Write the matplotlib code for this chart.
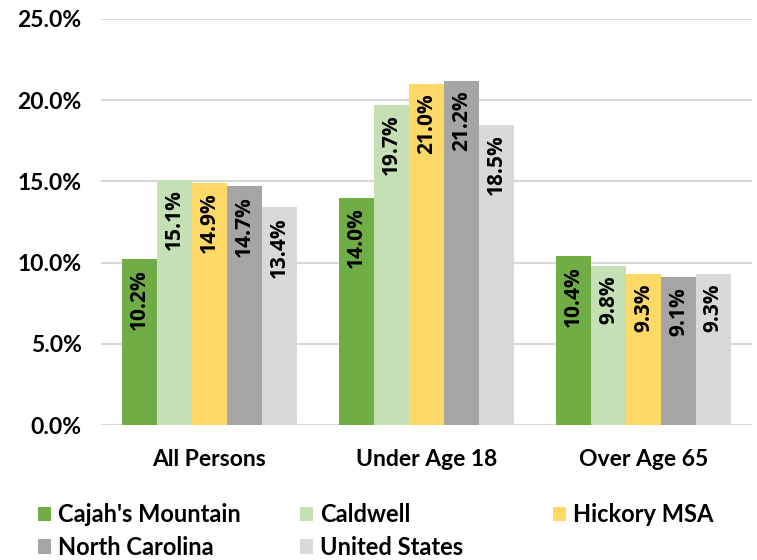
import numpy as np
import matplotlib.pyplot as plt
from matplotlib.patches import Patch

plt.rcParams['font.family'] = ['Lato', 'DejaVu Sans']
plt.rcParams['font.weight'] = 'bold'

categories = ['All Persons', 'Under Age 18', 'Over Age 65']
series_names = ["Cajah's Mountain", 'Caldwell', 'Hickory MSA', 'North Carolina', 'United States']
cajahs = [10.2, 14.0, 10.4]
caldwell = [15.1, 19.7, 9.8]
hickory = [14.9, 21.0, 9.3]
north_carolina = [14.7, 21.2, 9.1]
united_states = [13.4, 18.5, 9.3]
colors = ['#70ad47', '#c5e0b4', '#ffd966', '#a5a5a5', '#d9d9d9']

all_series = [cajahs, caldwell, hickory, north_carolina, united_states]

fig = plt.figure(figsize=(7.57, 5.6), dpi=100)
ax = fig.add_axes([101/757, 1 - 425/560, 651/757, 406/560])

x = np.arange(len(categories))
width = 0.161
for i, (vals, col) in enumerate(zip(all_series, colors)):
    pos = x + (i - 2) * width
    bars = ax.bar(pos, vals, width, color=col, zorder=3)
    for b, v in zip(bars, vals):
        ax.annotate(f'{v:.1f}%', (b.get_x() + b.get_width()/2, v),
                    xytext=(0, -7), textcoords='offset points',
                    ha='center', va='top', rotation=90,
                    fontsize=15, fontweight='bold', color='black',
                    family=['Open Sans', 'DejaVu Sans'], zorder=4)

ax.set_xlim(-0.5, 2.5)
ax.set_ylim(0, 25)
ax.set_yticks(np.arange(0, 26, 5))
ax.set_yticklabels([f'{t:.1f}%' for t in np.arange(0, 26, 5)], fontsize=16.5, fontweight='bold')
ax.set_xticks(x)
ax.set_xticklabels(categories, fontsize=16.5, fontweight='bold')
ax.tick_params(axis='both', length=0)
ax.tick_params(axis='y', pad=14)
ax.tick_params(axis='x', pad=17)
ax.yaxis.grid(True, color='#d9d9d9', linewidth=1.5, zorder=0)
for s in ax.spines.values():
    s.set_visible(False)

# legend laid out row by row, one legend per column
handles = [Patch(facecolor=c, edgecolor='none') for c in colors]
columns = [[0, 3], [1, 4], [2]]
col_x = [38, 300, 553]
for idx, cx in zip(columns, col_x):
    fig.legend([handles[k] for k in idx], [series_names[k] for k in idx],
               loc='upper left', bbox_to_anchor=(cx/757, 1 - 503/560),
               frameon=False, prop={'size': 17, 'weight': 'bold'},
               handlelength=0.55, handleheight=0.55, handletextpad=0.3,
               labelspacing=0.42, borderpad=0, borderaxespad=0)

fig.savefig('out.png', dpi=100)
